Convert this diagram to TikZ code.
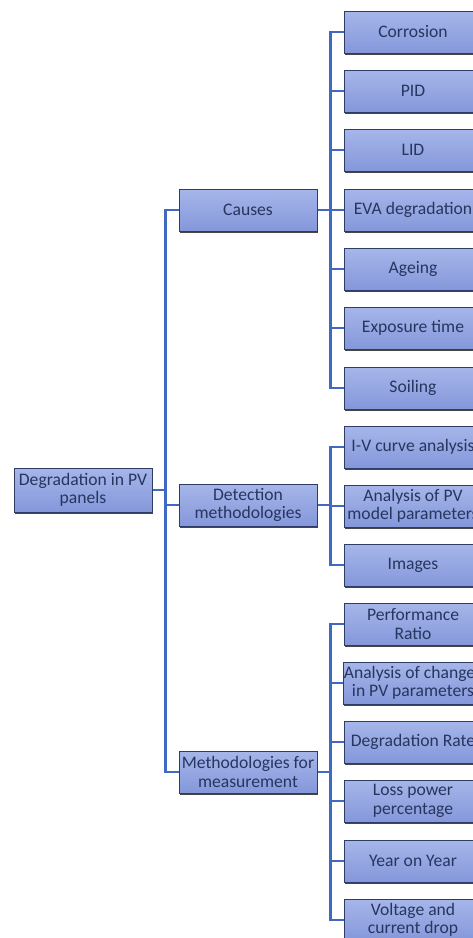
\documentclass[tikz,border=0pt]{standalone}
\usepackage{fontspec}
\setmainfont{Carlito}
\usetikzlibrary{shadows}
\definecolor{boxtop}{HTML}{A6B6EA}
\definecolor{boxbot}{HTML}{8497DA}
\definecolor{boxline}{HTML}{2E3C66}
\definecolor{txt}{HTML}{26365E}
\definecolor{conn}{HTML}{4169C2}
\tikzset{
  box/.style={rectangle, minimum width=138pt, minimum height=42pt, inner sep=0pt,
    top color=boxtop, bottom color=boxbot, draw=boxline, line width=1pt,
    drop shadow={shadow xshift=0.6pt, shadow yshift=-1.6pt, fill=black!85, opacity=0.85},
    text=txt, align=center, font=\fontsize{17.6}{18.5}\selectfont},
  conn/.style={draw=conn, line width=2.6pt}
}
\begin{document}
\begin{tikzpicture}[x=1pt,y=-1pt]
\path[use as bounding box, clip] (0,0) rectangle (473,938);
\fill[white] (0,0) rectangle (473,938);
% nodes
\node[box, minimum height=44pt] (root) at (83,490) {Degradation in PV\\panels};
\node[box] (causes) at (248,210) {Causes};
\node[box] (detect) at (248,505) {Detection\\methodologies};
\node[box] (meth) at (248,772) {Methodologies for\\measurement};
% causes leaves
\node[box] (c1) at (413,32) {Corrosion};
\node[box] (c2) at (413,91) {PID};
\node[box] (c3) at (413,150) {LID};
\node[box] (c4) at (413,210) {EVA degradation};
\node[box] (c5) at (413,269) {Ageing};
\node[box] (c6) at (413,328) {Exposure time};
\node[box] (c7) at (413,388) {Soiling};
% detection leaves
\node[box] (d1) at (413,447) {I-V curve analysis};
\node[box] (d2) at (413,506) {Analysis of PV\\model parameters};
\node[box] (d3) at (413,565) {Images};
% measurement leaves
\node[box] (m1) at (413,624) {Performance\\Ratio};
\node[box] (m2) at (413,683) {Analysis of changes\\in PV parameters};
\node[box] (m3) at (413,742) {Degradation Rate};
\node[box] (m4) at (413,801) {Loss power\\percentage};
\node[box] (m5) at (413,861) {Year on Year};
\node[box] (m6) at (413,920) {Voltage and\\current drop};
% connectors
\begin{scope}[on background layer/.style={}]
\foreach \c in {causes,detect,meth}
  \path[conn] (root.east) -- ++(13,0) |- (\c.west);
\foreach \c in {c1,c2,c3,c4,c5,c6,c7}
  \path[conn] (causes.east) -- ++(13,0) |- (\c.west);
\foreach \c in {d1,d2,d3}
  \path[conn] (detect.east) -- ++(13,0) |- (\c.west);
\foreach \c in {m1,m2,m3,m4,m5,m6}
  \path[conn] (meth.east) -- ++(13,0) |- (\c.west);
\end{scope}
\end{tikzpicture}
\end{document}
